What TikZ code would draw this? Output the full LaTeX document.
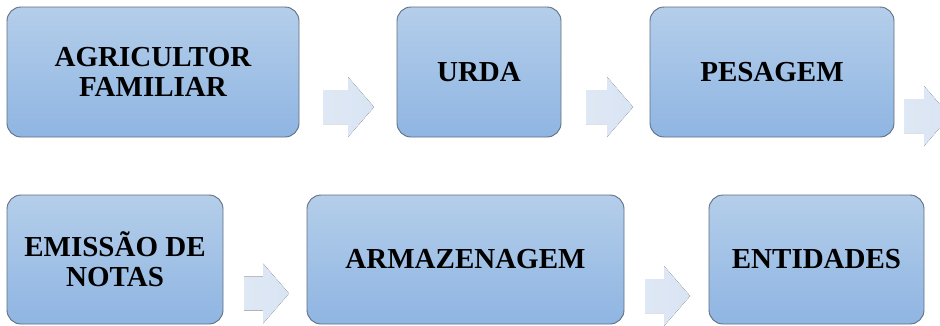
\documentclass[tikz,border=0pt]{standalone}
\usepackage{fontspec}
\setmainfont{Liberation Serif}
\definecolor{boxtop}{HTML}{B4CEEA}
\definecolor{boxbot}{HTML}{8FB5E2}
\definecolor{boxline}{HTML}{5F6E82}
\definecolor{arrowfill}{HTML}{D9E4F3}
\begin{document}
\begin{tikzpicture}[x=1pt,y=-1pt,
  stepbox/.style={draw=boxline, line width=0.9pt, rounded corners=14pt,
    top color=boxtop, bottom color=boxbot, align=center,
    font=\fontsize{29}{30}\selectfont\bfseries, inner sep=0pt},
  pics/flowarrow/.style={code={
    \fill[left color=arrowfill!85!white, right color=arrowfill]
      (-#1/2,-17) -- (#1/2-26,-17) -- (#1/2-26,-30) -- (#1/2,0)
      -- (#1/2-26,30) -- (#1/2-26,17) -- (-#1/2,17) -- cycle;}}]
\useasboundingbox (0,0) rectangle (940,325);
\node[stepbox, minimum width=292pt, minimum height=130pt] (agr) at (153,72) {AGRICULTOR\\FAMILIAR};
\node[stepbox, minimum width=164pt, minimum height=130pt] (urda) at (479,72) {URDA};
\node[stepbox, minimum width=244pt, minimum height=130pt] (pes) at (772,72) {PESAGEM};
\node[stepbox, minimum width=216pt, minimum height=129pt] (emi) at (115,259.5) {EMISSÃO DE\\NOTAS};
\node[stepbox, minimum width=317pt, minimum height=129pt] (arm) at (465.5,259.5) {ARMAZENAGEM};
\node[stepbox, minimum width=215pt, minimum height=129pt] (ent) at (816.5,259.5) {ENTIDADES};
\coordinate (a1) at (348.5,107);
\coordinate (a2) at (609.5,107);
\coordinate (a3) at (927,116);
\coordinate (a4) at (266.5,293.5);
\coordinate (a5) at (667.5,296);
\pic at (a1) {flowarrow=51};
\pic at (a2) {flowarrow=47};
\pic at (a3) {flowarrow=46};
\pic at (a4) {flowarrow=45};
\pic at (a5) {flowarrow=45};
\end{tikzpicture}
\end{document}
